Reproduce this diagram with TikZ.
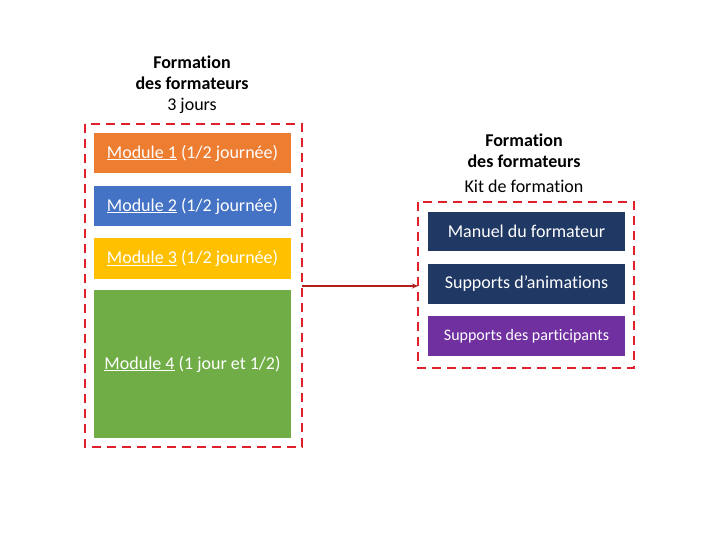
\documentclass[tikz,border=0pt]{standalone}
\usepackage{fontspec}
\setmainfont{Carlito}[Ligatures=NoCommon]
\usetikzlibrary{arrows.meta}
\definecolor{cOrange}{HTML}{ED7D31}
\definecolor{cBlue}{HTML}{4472C4}
\definecolor{cGold}{HTML}{FFC000}
\definecolor{cGreen}{HTML}{70AD47}
\definecolor{cNavy}{HTML}{203864}
\definecolor{cPurple}{HTML}{7030A0}
\definecolor{cRed}{HTML}{E0202A}
\definecolor{cArrow}{HTML}{B01E1E}
\begin{document}
\begin{tikzpicture}[x=1pt,y=-1pt,
  modbox/.style={draw=none,fill=#1,text=white,font=\fontsize{18}{21}\selectfont,inner sep=0pt},
  dashbox/.style={draw=cRed,line width=2.8pt,dash pattern=on 9pt off 6pt},
  ttl/.style={font=\fontsize{18}{21}\selectfont,align=center,inner sep=0pt}]
\useasboundingbox (0,0) rectangle (720,540);
% left
\node[ttl,font=\fontsize{18}{21}\selectfont\bfseries] (t1) at (192,62) {Formation};
\node[ttl,font=\fontsize{18}{21}\selectfont\bfseries] (t2) at (192,83) {des formateurs};
\node[ttl] (t3) at (192,106) {3 jours};
\draw[dashbox] (85,124) rectangle (302,447);
\coordinate (lb) at (302,286);
\node[modbox=cOrange,minimum width=197pt,minimum height=40pt] (m1) at (192.5,153) {\underline{Module 1} (1/2 journée)};
\node[modbox=cBlue,minimum width=197pt,minimum height=40pt] (m2) at (192.5,206) {\underline{Module 2} (1/2 journée)};
\node[modbox=cGold,minimum width=197pt,minimum height=41pt] (m3) at (192.5,258.5) {\underline{Module 3} (1/2 journée)};
\node[modbox=cGreen,minimum width=197pt,minimum height=148pt] (m4) at (192.5,364) {\underline{Module 4} (1 jour et 1/2)};
% right
\node[ttl,font=\fontsize{18}{21}\selectfont\bfseries] (r1) at (524,140) {Formation};
\node[ttl,font=\fontsize{18}{21}\selectfont\bfseries] (r2) at (524,161) {des formateurs};
\node[ttl] (r3) at (524,186) {Kit de formation};
\draw[dashbox] (418,202) rectangle (634,368);
\coordinate (rb) at (418,286);
\node[modbox=cNavy,minimum width=197pt,minimum height=39pt] (k1) at (526.5,231.5) {Manuel du formateur};
\node[modbox=cNavy,minimum width=197pt,minimum height=40pt] (k2) at (526.5,284) {Supports d’animations};
\node[modbox=cPurple,minimum width=197pt,minimum height=40pt,font=\fontsize{16}{19}\selectfont] (k3) at (526.5,336) {Supports des participants};
\draw[cArrow,line width=1.3pt,-{Stealth[length=6pt,width=5pt]}] (lb) -- (rb);
\end{tikzpicture}
\end{document}
